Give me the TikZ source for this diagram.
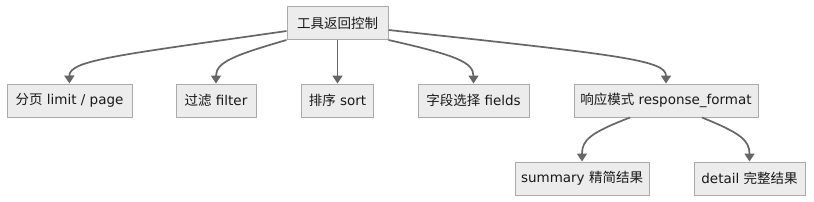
\documentclass[tikz,border=0pt]{standalone}
\usepackage{fontspec}
\setmainfont{DejaVu Sans}
\newfontfamily\cjk{Noto Sans CJK SC}
\usepackage{tikz}
\usetikzlibrary{positioning, arrows.meta, calc}
\definecolor{boxfill}{HTML}{ECECEC}
\definecolor{boxline}{HTML}{AAAAAA}
\definecolor{linkgray}{HTML}{666666}

\begin{document}
\begin{tikzpicture}[x=1pt, y=-1pt,
    box/.style={rectangle, draw=boxline, fill=boxfill, line width=1pt, minimum height=33pt, inner xsep=5pt, font=\fontsize{13.5}{16}\selectfont, text=black!90},
    arrow/.style={-{Triangle[length=8pt, width=10pt]}, draw=linkgray, line width=1.7pt}
]
    \useasboundingbox[fill=white] (0,0) rectangle (814,201);

    \node[box, minimum width=101pt] (root) at (337.5,23) {{\cjk 工具返回控制}};

    \node[box, minimum width=125pt] (paging) at (69.5,100.5) {{\cjk 分页} limit / page};
    \node[box, minimum width=80pt] (filter) at (216,100.5) {{\cjk 过滤} filter};
    \node[box, minimum width=72pt] (sort) at (337.5,100.5) {{\cjk 排序} sort};
    \node[box, minimum width=111pt] (fields) at (473.5,100.5) {{\cjk 字段选择} fields};
    \node[box, minimum width=184pt] (respfmt) at (666,100.5) {{\cjk 响应模式} response\_format};

    \node[box, minimum width=134pt] (summary) at (582,178.5) {summary {\cjk 精简结果}};
    \node[box, minimum width=111pt] (detail) at (749.5,178.5) {detail {\cjk 完整结果}};

    \draw[arrow] ([yshift=-8pt]root.west) .. controls (120,55) and (69,60) .. (paging.north);
    \draw[arrow] (root.south west) .. controls (235,55) and (216,62) .. (filter.north);
    \draw[arrow] (root.south) -- (sort.north);
    \draw[arrow] (root.south east) .. controls (455,55) and (473.5,62) .. (fields.north);
    \draw[arrow] ([yshift=-7pt]root.east) .. controls (620,55) and (666,60) .. (respfmt.north);

    \draw[arrow] ([xshift=-36pt]respfmt.south) .. controls (590,133) and (582,140) .. (summary.north);
    \draw[arrow] ([xshift=36pt]respfmt.south) .. controls (740,133) and (749.5,140) .. (detail.north);
\end{tikzpicture}
\end{document}
